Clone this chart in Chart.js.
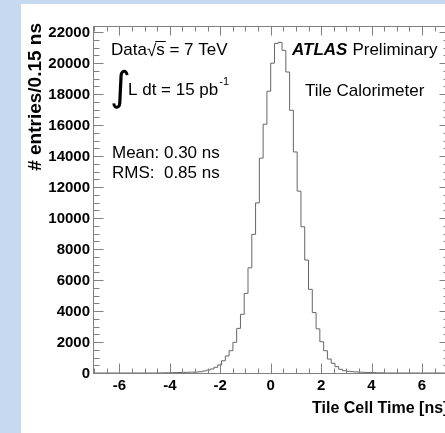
<!DOCTYPE html>
<html>
<head>
<meta charset="utf-8">
<script src="https://cdn.jsdelivr.net/npm/chart.js@4.4.0/dist/chart.umd.min.js"></script>
<style>
body{margin:0;background:#c6d9f0;overflow:hidden;width:445px;height:433px;}
#paper{position:absolute;left:21px;top:4px;width:440px;height:440px;background:#fff;}
#mycanvas{position:absolute;left:0;top:0;}
</style>
</head>
<body>
<div id="paper"></div>
<canvas id="mycanvas" width="450" height="433"></canvas>
<script>
// histogram binning: 94 bins of 0.15 ns starting at -7.05 ns
var binLow = -7.05;
var binWidth = 0.15;
var counts = [
    0, 0, 0, 0, 0, 0, 0, 0, 0, 0, 0, 0, 0, 0, 0, 0, 0,
    5, 10, 15, 20, 25, 30, 35, 40, 50, 55, 60, 85, 130, 190, 260, 370, 520, 790,
    1100, 1440, 1980, 2880, 3790, 5140, 6790, 8950, 10980, 13870, 16060, 18190,
    20000, 21280, 21340, 20830, 19430, 16960, 14270, 11740, 9440, 7290, 5400,
    3900, 2850, 2020, 1440, 900, 630, 410, 240, 150, 110, 90, 70, 55, 45, 35,
    28, 22, 15, 10,
    0, 0, 0, 0, 0, 0, 0, 0, 0, 0, 0, 0, 0, 0, 0, 0, 0
];
var xTicks = [-6, -4, -2, 0, 2, 4, 6];
var yTicks = [0, 2000, 4000, 6000, 8000, 10000, 12000, 14000, 16000, 18000, 20000, 22000];
var yTitle = '# entries/0.15 ns';

var FONT = '"Liberation Sans", Arial, sans-serif';

// step points at the low edge of every bin, plus the last upper edge
var points = [];
for (var i = 0; i < counts.length; i++) {
    points.push({x: binLow + i * binWidth, y: counts[i]});
}
points.push({x: binLow + counts.length * binWidth, y: counts[counts.length - 1]});

function seg(ctx, x1, y1, x2, y2) {
    ctx.beginPath();
    ctx.moveTo(x1, y1);
    ctx.lineTo(x2, y2);
    ctx.stroke();
}

// ROOT style frame with ticks on all four sides, plus the y labels
var frameTicks = {
    id: 'frameTicks',
    afterDraw: function(chart) {
        var ctx = chart.ctx, a = chart.chartArea;
        var xs = chart.scales.x, ys = chart.scales.y;
        var L = Math.round(a.left) + 0.5, R = Math.round(a.right) + 0.5;
        var T = Math.round(a.top) + 0.5, B = Math.round(a.bottom) + 0.5;
        ctx.save();
        ctx.strokeStyle = '#808080';
        ctx.lineWidth = 1;
        ctx.strokeRect(L, T, R - L, B - T);
        for (var v = -7; v <= 7; v += 0.5) {
            var px = Math.round(xs.getPixelForValue(v)) + 0.5;
            var major = (v % 2 === 0);
            seg(ctx, px, B, px, B - (major ? 10 : 5));
            seg(ctx, px, T, px, T + (major ? 9 : 5));
        }
        for (var w = 0; w <= ys.max; w += 500) {
            var py = Math.round(ys.getPixelForValue(w)) + 0.5;
            var maj = (w % 2000 === 0);
            seg(ctx, L, py, L + (maj ? 10 : 6), py);
            seg(ctx, R, py, R - (maj ? 9 : 5), py);
        }

        ctx.fillStyle = '#000';
        ctx.font = 'bold 15px ' + FONT;
        ctx.textAlign = 'right';
        ctx.textBaseline = 'middle';
        yTicks.forEach(function(t) {
            ctx.fillText(String(t), a.left - 3, ys.getPixelForValue(t) + 1);
        });

        ctx.translate(36, a.top - 3);
        ctx.rotate(-Math.PI / 2);
        ctx.font = 'bold 19px ' + FONT;
        ctx.textAlign = 'right';
        ctx.textBaseline = 'middle';
        ctx.fillText(yTitle, 0, 0);
        ctx.restore();
    }
};

// text boxes
var textBoxes = {
    id: 'textBoxes',
    afterDraw: function(chart) {
        var ctx = chart.ctx;
        ctx.save();
        ctx.fillStyle = '#000';
        ctx.strokeStyle = '#000';
        ctx.textBaseline = 'alphabetic';
        ctx.textAlign = 'left';
        ctx.font = '17px ' + FONT;

        // Data sqrt(s) = 7 TeV
        var x = 111;
        ctx.fillText('Data', x, 55);
        x += ctx.measureText('Data').width;
        ctx.fillText('\u221A', x, 56);
        x += ctx.measureText('\u221A').width;
        var sw = ctx.measureText('s').width;
        ctx.fillText('s', x, 55);
        ctx.lineWidth = 1;
        seg(ctx, x - 1, 41.5, x + sw + 1, 41.5);
        x += sw;
        ctx.fillText(' = 7 TeV', x, 55);

        // integrated luminosity
        ctx.font = '40px "DejaVu Sans", sans-serif';
        ctx.fillText('\u222B', 110, 100);
        ctx.font = '17px ' + FONT;
        ctx.fillText('L dt = 15 pb', 128, 95);
        var pw = ctx.measureText('L dt = 15 pb').width;
        ctx.font = '11px ' + FONT;
        ctx.fillText('-1', 128 + pw + 1, 85);

        ctx.font = '17px ' + FONT;
        ctx.fillText('Mean: 0.30 ns', 112, 158);
        ctx.fillText('RMS:  0.85 ns', 112, 178);

        ctx.font = 'italic bold 17px ' + FONT;
        ctx.fillText('ATLAS', 292, 55);
        var aw = ctx.measureText('ATLAS').width;
        ctx.font = '17px ' + FONT;
        ctx.fillText('Preliminary', 292 + aw + 5, 55);
        ctx.fillText('Tile Calorimeter', 305, 96);
        ctx.restore();
    }
};

var ctx = document.getElementById('mycanvas');
var histChart = new Chart(ctx, {
    type: 'line',
    data: {
        datasets: [{
            data: points,
            stepped: 'before',
            borderColor: '#666666',
            borderWidth: 1,
            pointRadius: 0,
            fill: false
        }]
    },
    options: {
        responsive: false,
        animation: false,
        layout: {padding: {top: 26, right: 1.6, left: 0, bottom: 0}},
        plugins: {legend: {display: false}, tooltip: {enabled: false}},
        scales: {
            x: {
                type: 'linear',
                min: binLow,
                max: binLow + counts.length * binWidth,
                grid: {display: false, drawTicks: false},
                border: {display: false},
                afterBuildTicks: function(s) { s.ticks = xTicks.map(function(v) { return {value: v}; }); },
                afterFit: function(s) { s.height = 60; },
                ticks: {
                    autoSkip: false, maxRotation: 0, padding: 4, color: '#000',
                    font: {family: FONT, size: 15, weight: 'bold'},
                    callback: function(v) { return v; }
                },
                title: {
                    display: true, text: 'Tile Cell Time [ns]', align: 'end', color: '#000',
                    font: {family: FONT, size: 16, weight: 'bold'},
                    padding: {top: 0, bottom: 15}
                }
            },
            y: {
                min: 0,
                max: 22400,
                grid: {display: false, drawTicks: false},
                border: {display: false},
                afterBuildTicks: function(s) { s.ticks = yTicks.map(function(v) { return {value: v}; }); },
                afterFit: function(s) { s.width = 93; },
                ticks: {display: false}
            }
        }
    },
    plugins: [frameTicks, textBoxes]
});
</script>
</body>
</html>
